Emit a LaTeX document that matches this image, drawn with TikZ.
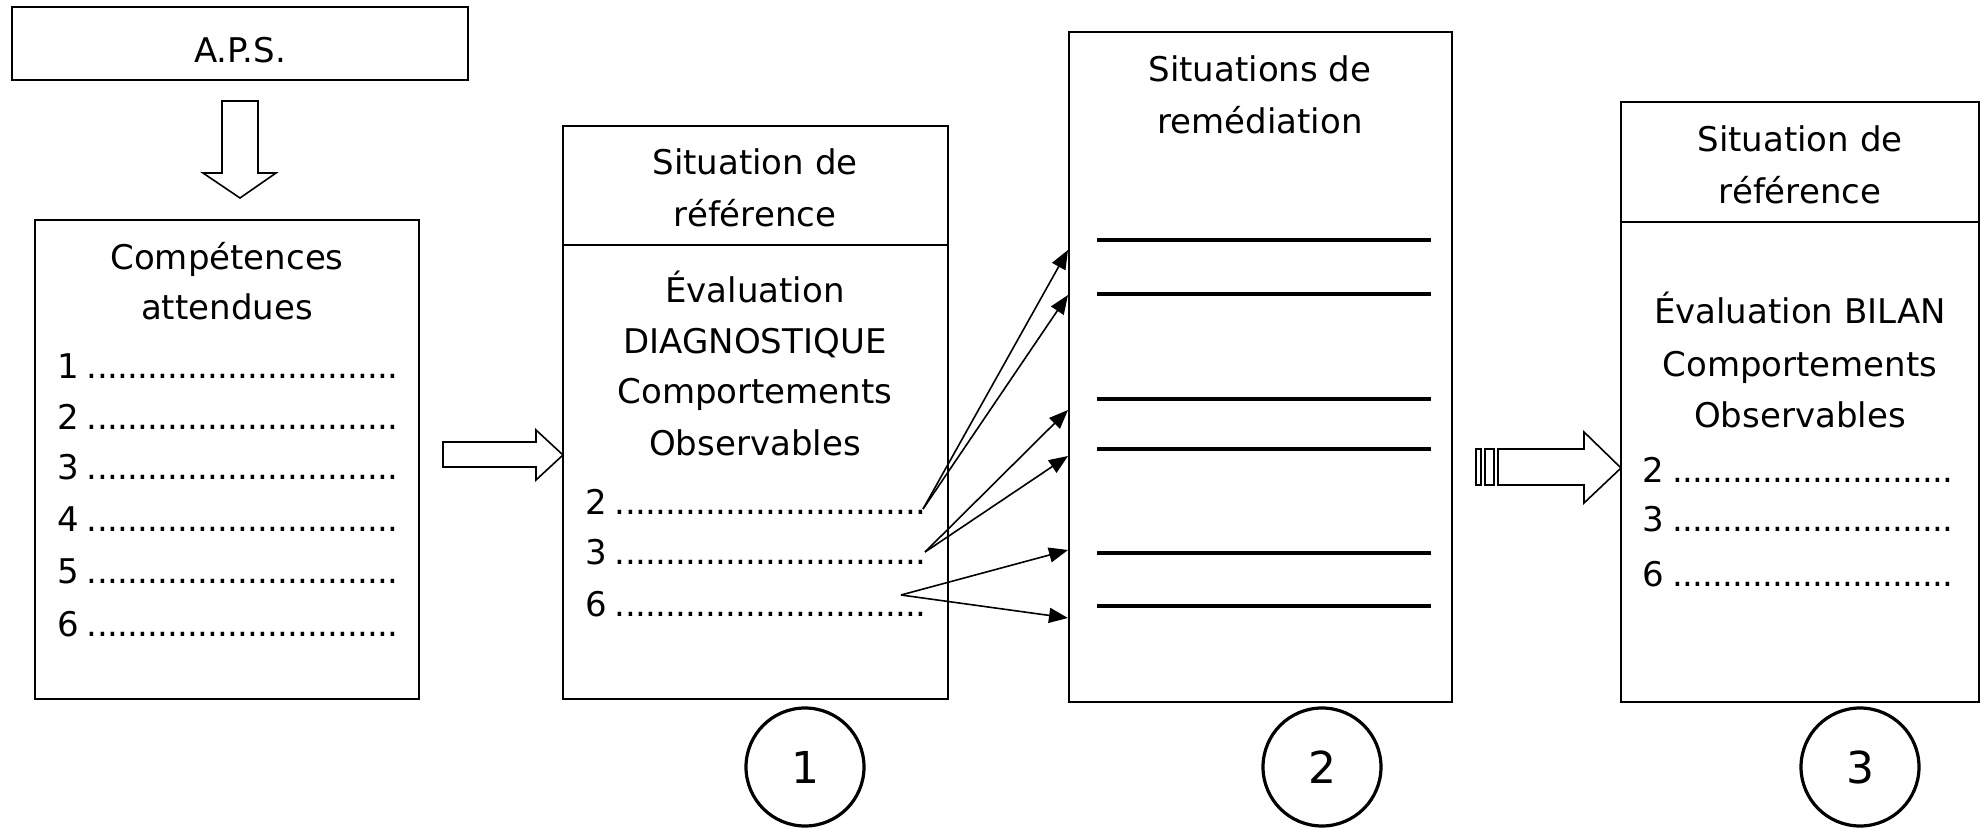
\documentclass[tikz,border=0pt]{standalone}
\usepackage{fontspec}
\setmainfont{DejaVu Sans}
\usetikzlibrary{arrows.meta,fit}
\newcommand\dotsline[2]{\hbox to #1{#2\leaders\hbox to 5pt{\hss.\hss}\hfill}}
\tikzset{
  box/.style={draw, line width=1.1pt, inner sep=0pt},
  txt/.style={inner sep=0pt, text height=12.5pt, text depth=0pt, anchor=center},
  item/.style={inner sep=0pt, text height=12.5pt, text depth=0pt, anchor=west},
  hollow/.style={draw, line width=0.8pt, fill=white, line join=miter},
  link/.style={line width=0.8pt, -{Triangle[length=9.5pt,width=7.5pt]}},
  rline/.style={line width=1.9pt},
  num/.style={circle, draw, line width=1.6pt, minimum size=59pt, inner sep=0pt, font=\fontsize{22}{26}\selectfont}
}
\begin{document}
\begin{tikzpicture}[x=0.5pt,y=-0.5pt,font=\fontsize{17}{20}\selectfont]
\useasboundingbox (0,0) rectangle (1981,828);
% boxes
\node[box, fit={(12,7) (468,80)}] (aps) {};
\node[box, fit={(35,220) (419,699)}] (comp) {};
\node[box, fit={(563,126) (948,699)}] (sit1) {};
\node[box, fit={(1069,32) (1452,702)}] (rem) {};
\node[box, fit={(1621,102) (1979,702)}] (sit3) {};
\draw[line width=1.1pt] (sit1.west |- 0,245) -- (sit1.east |- 0,245);
\draw[line width=1.1pt] (sit3.west |- 0,222) -- (sit3.east |- 0,222);
% texts
\node[txt] (tAPS) at (240,50) {A.P.S.};
\node[txt] (tC1) at (227,257) {Compétences};
\node[txt] (tC2) at (227,307) {attendues};
\node[item] (c1) at (57,366) {\dotsline{170.5pt}{1}};
\node[item] (c2) at (57,417) {\dotsline{170.5pt}{2\,}};
\node[item] (c3) at (57,467) {\dotsline{170.5pt}{3\,}};
\node[item] (c4) at (57,519) {\dotsline{170.5pt}{4\,}};
\node[item] (c5) at (57,571) {\dotsline{170.5pt}{5\,}};
\node[item] (c6) at (57,624) {\dotsline{170.5pt}{6\,}};
\node[txt] (s1a) at (755,162) {Situation de};
\node[txt] (s1b) at (755,214) {référence};
\node[txt] (s1c) at (755,290) {Évaluation};
\node[txt] (s1d) at (755,341) {DIAGNOSTIQUE};
\node[txt] (s1e) at (755,391) {Comportements};
\node[txt] (s1f) at (755,443) {Observables};
\node[item] (d2) at (585,502) {\dotsline{170.5pt}{2\,}};
\node[item] (d3) at (585,552) {\dotsline{170.5pt}{3\,}};
\node[item] (d6) at (585,604) {\dotsline{170.5pt}{6\,}};
\node[txt] (r1) at (1260,69) {Situations de};
\node[txt] (r2) at (1260,121) {remédiation};
\node[txt] (s3a) at (1800,139) {Situation de};
\node[txt] (s3b) at (1800,191) {référence};
\node[txt] (s3c) at (1800,311) {Évaluation BILAN};
\node[txt] (s3d) at (1800,364) {Comportements};
\node[txt] (s3e) at (1800,415) {Observables};
\node[item] (b2) at (1642,470) {\dotsline{157pt}{2\,}};
\node[item] (b3) at (1642,519) {\dotsline{157pt}{3\,}};
\node[item] (b6) at (1642,574) {\dotsline{157pt}{6\,}};
% remediation lines
\foreach \y in {240,294,399,449,553,606}
  \draw[rline] (1097,\y) -- (1431,\y);
% block arrows
\draw[hollow] (222,101) -- (258,101) -- (258,173) -- (276,173) -- (240,198)
  -- (203,173) -- (222,173) -- cycle;
\draw[hollow] (443,442) -- (536,442) -- (536,430) -- (563,455) -- (536,480)
  -- (536,467) -- (443,467) -- cycle;
\draw[hollow] (1476,449) rectangle (1481,485);
\draw[hollow] (1485,449) rectangle (1494,485);
\draw[hollow] (1498,449) -- (1584,449) -- (1584,432) -- (1621,468) -- (1584,503)
  -- (1584,485) -- (1498,485) -- cycle;
% links
\coordinate (o2) at (923,509);
\coordinate (o3) at (925,552);
\coordinate (o6) at (901,595);
\coordinate (p1) at (1068,250);
\coordinate (p2) at (1068,295);
\coordinate (p3) at (1068,410);
\coordinate (p4) at (1068,456);
\coordinate (p5) at (1068,550);
\coordinate (p6) at (1068,618);
\draw[link] (o2) -- (p1);
\draw[link] (o2) -- (p2);
\draw[link] (o3) -- (p3);
\draw[link] (o3) -- (p4);
\draw[link] (o6) -- (p5);
\draw[link] (o6) -- (p6);
% numbered circles
\node[num] (n1) at (805,767) {1};
\node[num] (n2) at (1322,767) {2};
\node[num] (n3) at (1860,767) {3};
\end{tikzpicture}
\end{document}
